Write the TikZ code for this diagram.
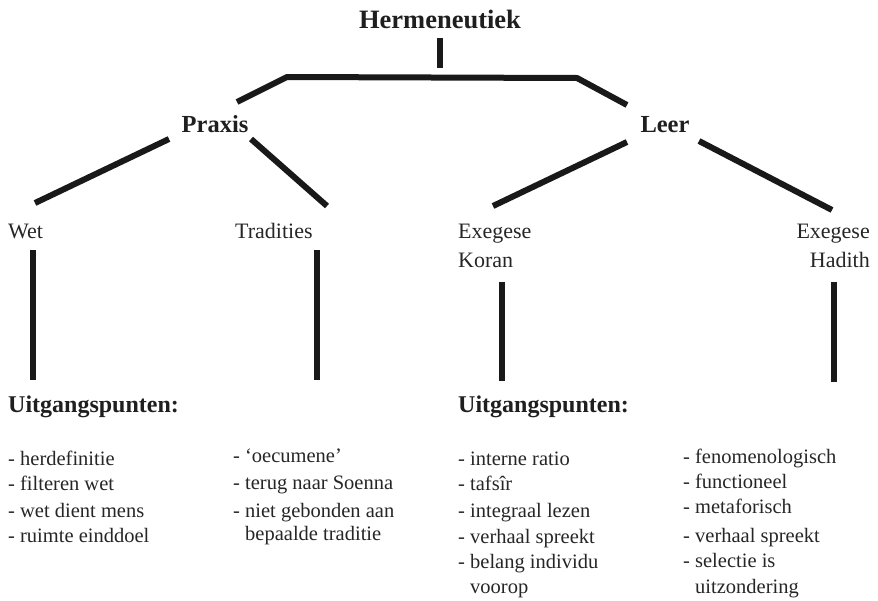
\documentclass[tikz,border=0pt]{standalone}
\usepackage{fontspec}
\setmainfont{Liberation Serif}
\begin{document}
\begin{tikzpicture}[x=1pt,y=-1pt,
  conn/.style={line width=6pt, line cap=butt, draw=black!90},
  head/.style={font=\fontsize{24.5}{28}\selectfont\bfseries, inner sep=0pt, anchor=base, text=black!88},
  lab/.style={font=\fontsize{22}{26}\selectfont, inner sep=0pt, anchor=base west, text=black!85},
  labr/.style={font=\fontsize{22}{26}\selectfont, inner sep=0pt, anchor=base east, text=black!85},
  item/.style={font=\fontsize{20.5}{24}\selectfont, inner sep=0pt, anchor=base west, text=black!85},
  ubold/.style={font=\fontsize{24}{28}\selectfont\bfseries, inner sep=0pt, anchor=base west, text=black!88}]
\useasboundingbox (0,0) rectangle (878,600);
% headings
\node[head, font=\fontsize{26.5}{30}\selectfont\bfseries] (herm) at (440,28) {Hermeneutiek};
\node[head] (praxis) at (215,132) {Praxis};
\node[head] (leer) at (665,132) {Leer};
% second level
\node[lab] (wet) at (8,238) {Wet};
\node[lab] (trad) at (235,238) {Tradities};
\node[lab] (exk1) at (458,238) {Exegese};
\node[lab] (exk2) at (458,267) {Koran};
\node[labr] (exh1) at (870,238) {Exegese};
\node[labr] (exh2) at (870,267) {Hadith};
% Uitgangspunten
\node[ubold] (u1) at (8,412) {Uitgangspunten:};
\node[ubold] (u2) at (458,412) {Uitgangspunten:};
% list 1
\node[item] (a1) at (8,465) {- herdefinitie};
\node[item] (a2) at (8,490) {- filteren wet};
\node[item] (a3) at (8,517) {- wet dient mens};
\node[item] (a4) at (8,542) {- ruimte einddoel};
% list 2
\node[item] (b1) at (233,462) {- ‘oecumene’};
\node[item] (b2) at (233,489) {- terug naar Soenna};
\node[item] (b3) at (233,517) {- niet gebonden aan};
\node[item] (b4) at (245,540) {bepaalde traditie};
% list 3
\node[item] (c1) at (458,465) {- interne ratio};
\node[item] (c2) at (458,490) {- tafsîr};
\node[item] (c3) at (458,517) {- integraal lezen};
\node[item] (c4) at (458,543) {- verhaal spreekt};
\node[item] (c5) at (458,568) {- belang individu};
\node[item] (c6) at (470,593) {voorop};
% list 4
\node[item] (d1) at (683,463) {- fenomenologisch};
\node[item] (d2) at (683,488) {- functioneel};
\node[item] (d3) at (683,513) {- metaforisch};
\node[item] (d4) at (683,542) {- verhaal spreekt};
\node[item] (d5) at (683,567) {- selectie is};
\node[item] (d6) at (695,593) {uitzondering};
% connector end points
\coordinate (hT) at (440,38);
\coordinate (hB) at (440,68);
\coordinate (barL) at (287,77);
\coordinate (barR) at (577,78);
\coordinate (pIn) at (237,102);
\coordinate (lIn) at (627,105);
\coordinate (pW) at (169,139);
\coordinate (wT) at (35,203);
\coordinate (pT) at (251,139);
\coordinate (tT) at (327,206);
\coordinate (lK) at (627,142);
\coordinate (kT) at (493,206);
\coordinate (lH) at (699,141);
\coordinate (hdT) at (832,210);
\coordinate (wA) at (33,250);
\coordinate (wB) at (33,380);
\coordinate (tA) at (317,250);
\coordinate (tB) at (317,380);
\coordinate (kA) at (502,282);
\coordinate (kB) at (502,381);
\coordinate (hA) at (834,282);
\coordinate (hZ) at (834,382);
% connectors
\draw[conn] (hT) -- (hB);
\draw[conn, line join=miter] (pIn) -- (barL) -- (barR) -- (lIn);
\draw[conn] (pW) -- (wT);
\draw[conn] (pT) -- (tT);
\draw[conn] (lK) -- (kT);
\draw[conn] (lH) -- (hdT);
\draw[conn] (wA) -- (wB);
\draw[conn] (tA) -- (tB);
\draw[conn] (kA) -- (kB);
\draw[conn] (hA) -- (hZ);
\end{tikzpicture}
\end{document}
